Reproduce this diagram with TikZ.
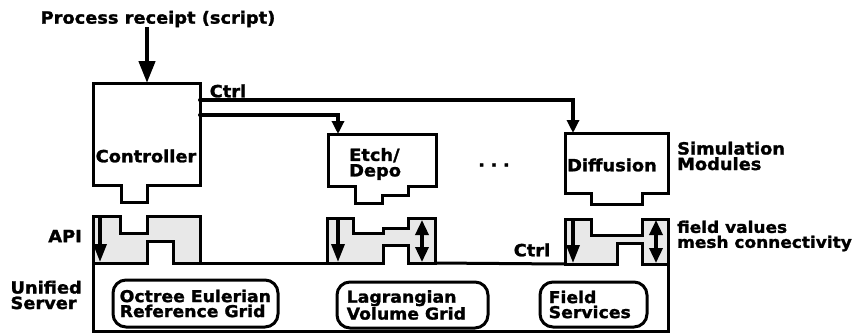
\documentclass[tikz,border=0pt]{standalone}
\usepackage{fontspec}
\newfontfamily\lbl{DejaVu Sans}[FakeStretch=1.06, FakeBold=1.5]
\usetikzlibrary{arrows.meta}
\begin{document}
\begin{tikzpicture}[x=1pt,y=-1pt,
  txt/.style={font=\lbl\bfseries\fontsize{16.8}{15.5}\selectfont, inner sep=0pt, align=left},
  btxt/.style={font=\lbl\bfseries\fontsize{16.3}{15}\selectfont, inner sep=0pt, align=left},
  box/.style={draw, line width=3pt, line join=miter},
  sock/.style={draw, line width=3pt, fill=black!9, line join=miter},
  rbox/.style={draw, line width=3pt, rounded corners=13pt, inner sep=0pt},
  carr/.style={line width=3.2pt, -{Triangle[length=13pt,width=12pt]}},
  sarr/.style={line width=3.4pt, -{Triangle[length=18pt,width=13pt]}},
  darr/.style={line width=3.4pt, {Triangle[length=15pt,width=13pt]}-{Triangle[length=15pt,width=13pt]}},
  bigarr/.style={line width=4.4pt, -{Triangle[length=22pt,width=16pt]}}
]
\useasboundingbox (0,0) rectangle (858,335);

% ---- sockets (API) ----
\draw[sock] (93,216) -- (120,216) -- (120,233) -- (147,233) -- (147,216) -- (200,216) -- (200,263)
  -- (173,263) -- (173,241) -- (147,241) -- (147,263) -- (93,263) -- cycle;
\draw[sock] (327,218) -- (353,218) -- (353,233) -- (383,233) -- (383,228) -- (408,228) -- (408,218)
  -- (435,218) -- (435,263) -- (408,263) -- (408,245) -- (383,245) -- (383,263) -- (327,263) -- cycle;
\draw[sock] (565,219) -- (591,219) -- (591,235) -- (642,235) -- (642,219) -- (668,219) -- (668,264)
  -- (642,264) -- (642,243) -- (617,243) -- (617,264) -- (565,264) -- cycle;

% ---- unified server outline ----
\draw[box] (200,263) -- (327,263);
\draw[box] (435,263) -- (565,264);
\draw[box] (93,262) -- (93,331) -- (668,331) -- (668,263);

% ---- modules ----
\draw[box] (93,83) -- (200,83) -- (200,185) -- (147,185) -- (147,202) -- (121,202) -- (121,185) -- (93,185) -- cycle;
\draw[box] (328,134) -- (436,134) -- (436,186) -- (408,186) -- (408,195) -- (382,195) -- (382,203)
  -- (355,203) -- (355,186) -- (328,186) -- cycle;
\draw[box] (565,133) -- (668,133) -- (668,193) -- (642,193) -- (642,204) -- (591,204) -- (591,193) -- (565,193) -- cycle;

% ---- coordinates ----
\coordinate (ctrltop) at (147,83);
\coordinate (c1) at (200,100);
\coordinate (c2) at (200,115);
\coordinate (difftop) at (573,133);
\coordinate (etchtop) at (338,134);
\coordinate (s1a) at (100,217);  \coordinate (s1b) at (100,262);
\coordinate (s2a) at (338,219);  \coordinate (s2b) at (338,262);
\coordinate (s2c) at (422,220);  \coordinate (s2d) at (422,262);
\coordinate (s3a) at (573,220);  \coordinate (s3b) at (573,263);
\coordinate (s3c) at (656,220);  \coordinate (s3d) at (656,263);

% ---- text ----
\node[txt] (proc) at (158,19) {Process receipt (script)};
\node[txt] (ctrl) at (146,156) {Controller};
\node[txt] (ctrllbl) at (228,91) {Ctrl};
\node[txt, anchor=west] (etch) at (349,164) {Etch/\\Depo};
\node[txt] (diff) at (612,165) {Diffusion};
\node[txt] (dots) at (494,165) {.\,\,.\,\,.};
\node[txt, anchor=west] (sim) at (677,156) {Simulation\\Modules};
\node[txt, anchor=east] (api) at (82,236) {API};
\node[txt, anchor=east] (unified) at (82,295) {Unified\\Server};
\node[txt] (ctrl2) at (532,250) {Ctrl};
\node[txt, anchor=west, font=\lbl\bfseries\fontsize{16}{15}\selectfont] (fv) at (677,236) {field values\\mesh connectivity};

% ---- rounded service boxes ----
\node[rbox, minimum width=165pt, minimum height=47pt] (oct) at (195.5,303.5) {};
\node[btxt, anchor=west] (octt) at ([xshift=8pt]oct.west) {Octree Eulerian\\Reference Grid};
\node[rbox, minimum width=151pt, minimum height=46pt] (lag) at (412.5,305) {};
\node[btxt, anchor=west] (lagt) at ([xshift=11pt]lag.west) {Lagrangian\\Volume Grid};
\node[rbox, minimum width=107pt, minimum height=45pt] (fld) at (593.5,304.5) {};
\node[btxt, anchor=west] (fldt) at ([xshift=10pt]fld.west) {Field\\Services};

% ---- connectors ----
\draw[bigarr] (proc.south -| ctrltop) -- (ctrltop);
\draw[carr] (c1) -| (difftop);
\draw[carr] (c2) -| (etchtop);
\fill (c1) circle (2pt);
\fill (c2) circle (2pt);
\draw[sarr] (s1a) -- (s1b);
\draw[sarr] (s2a) -- (s2b);
\draw[darr] (s2c) -- (s2d);
\draw[sarr] (s3a) -- (s3b);
\draw[darr] (s3c) -- (s3d);
\end{tikzpicture}
\end{document}
